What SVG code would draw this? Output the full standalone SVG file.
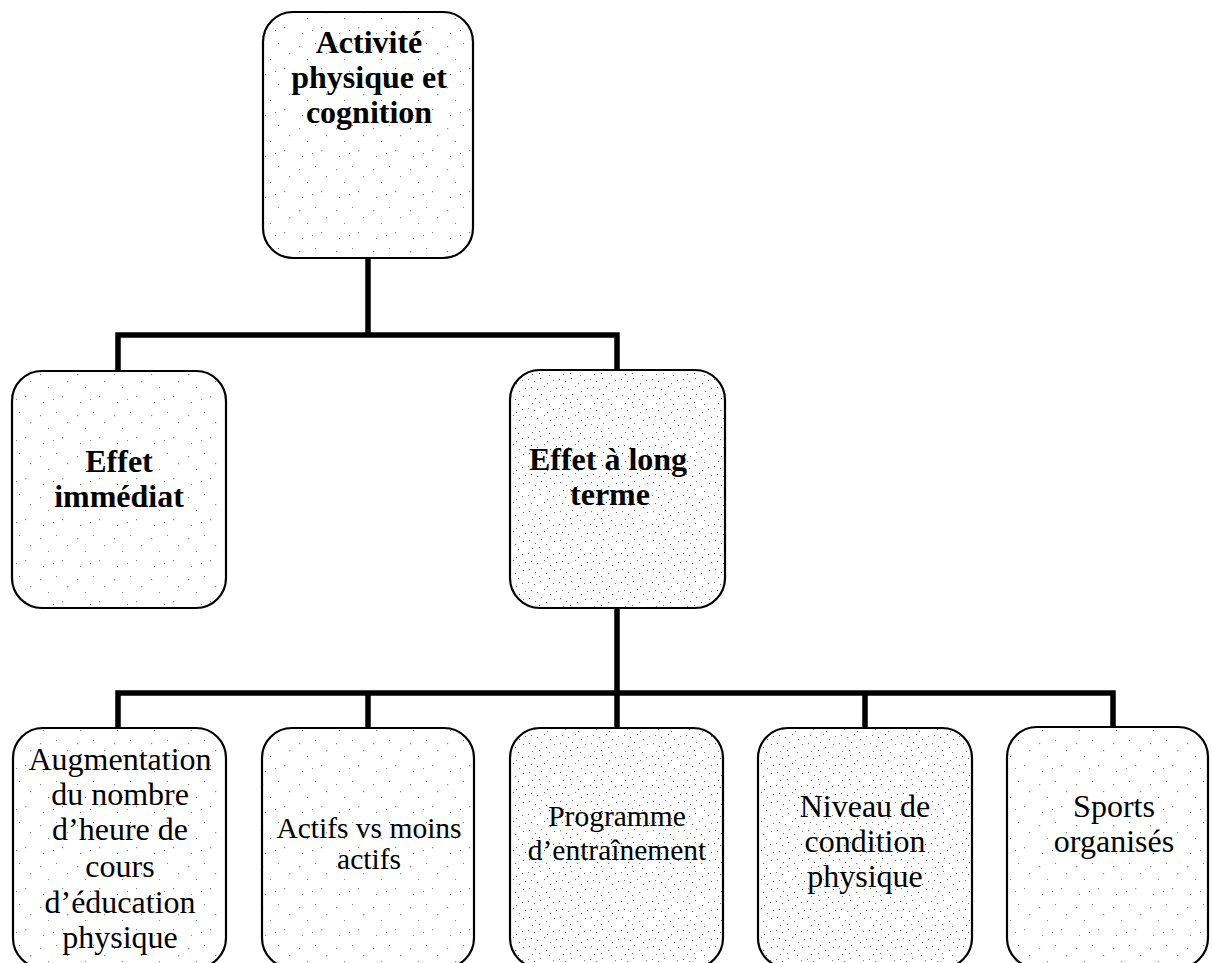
<svg xmlns="http://www.w3.org/2000/svg" width="1212" height="963" viewBox="0 0 1212 963">
<style>
.box{stroke:#000;stroke-width:2.2}
.light{fill:url(#speckL)}
.dense{fill:url(#speckD)}
.b{font-family:"Liberation Serif","Times New Roman",serif;font-weight:bold;font-size:32px;text-anchor:middle;fill:#000}
.r{font-family:"Liberation Serif","Times New Roman",serif;font-size:32px;text-anchor:middle;fill:#000}
.r28{font-family:"Liberation Serif","Times New Roman",serif;font-size:29.5px;text-anchor:middle;fill:#000}
.conn{fill:none;stroke:#000;stroke-width:5.5;stroke-linejoin:miter;stroke-linecap:square}
</style>
<defs>
<pattern id="speckL" width="37" height="41" patternUnits="userSpaceOnUse">
<rect width="37" height="41" fill="#fff"/>
<g fill="#888">
<rect x="3" y="5" width="1.2" height="1.2"/><rect x="19" y="2" width="1" height="1"/><rect x="30" y="12" width="1.2" height="1.2"/><rect x="11" y="18" width="1" height="1"/><rect x="25" y="27" width="1.2" height="1.2"/><rect x="6" y="33" width="1" height="1"/><rect x="16" y="30" width="1" height="1"/>
</g>
</pattern>
<pattern id="speckD" width="31" height="29" patternUnits="userSpaceOnUse">
<rect width="31" height="29" fill="#fff"/>
<g fill="#777">
<rect x="1" y="2" width="1" height="1"/><rect x="7" y="4" width="1.2" height="1"/><rect x="13" y="1" width="1" height="1"/><rect x="20" y="6" width="1" height="1.2"/><rect x="26" y="3" width="1" height="1"/><rect x="4" y="10" width="1" height="1"/><rect x="10" y="12" width="1.2" height="1"/><rect x="17" y="9" width="1" height="1"/><rect x="23" y="14" width="1" height="1"/><rect x="29" y="11" width="1" height="1"/><rect x="2" y="18" width="1" height="1.2"/><rect x="8" y="21" width="1" height="1"/><rect x="14" y="17" width="1" height="1"/><rect x="19" y="22" width="1.2" height="1"/><rect x="27" y="19" width="1" height="1"/><rect x="5" y="26" width="1" height="1"/><rect x="12" y="25" width="1" height="1"/><rect x="22" y="27" width="1" height="1"/>
</g>
</pattern>
</defs>
<g id="connectors">
<path class="conn" d="M368 258 V335 M118 371 V335 H617 V370"/>
<path class="conn" d="M617 608 V693 M118 728 V693 H1113 V728 M368 693 V728 M617 693 V728 M865 693 V728"/>
</g>
<g id="n-root">
<rect class="box light" x="263" y="12" width="210" height="246" rx="30"/>
<text class="b" x="369" y="53">Activité</text>
<text class="b" x="369" y="88">physique et</text>
<text class="b" x="369" y="123">cognition</text>
</g>
<g id="n-immediat">
<rect class="box light" x="12" y="371" width="214" height="237" rx="30"/>
<text class="b" x="119" y="472">Effet</text>
<text class="b" x="119" y="507">immédiat</text>
</g>
<g id="n-long">
<rect class="box dense" x="510" y="370" width="215" height="238" rx="30"/>
<text class="b" x="608" y="470">Effet à long</text>
<text class="b" x="610" y="505">terme</text>
</g>
<g id="n-augmentation">
<rect class="box light" x="13" y="728" width="213" height="240" rx="30"/>
<text class="r" x="120" y="770">Augmentation</text>
<text class="r" x="120" y="805">du nombre</text>
<text class="r" x="120" y="840">d’heure de</text>
<text class="r" x="120" y="877">cours</text>
<text class="r" x="120" y="913">d’éducation</text>
<text class="r" x="120" y="948">physique</text>
</g>
<g id="n-actifs">
<rect class="box light" x="262" y="728" width="212" height="240" rx="30"/>
<text class="r28" x="369" y="838">Actifs vs moins</text>
<text class="r28" x="369" y="869">actifs</text>
</g>
<g id="n-programme">
<rect class="box dense" x="510" y="728" width="213" height="240" rx="30"/>
<text class="r28" x="617" y="826">Programme</text>
<text class="r28" x="617" y="860">d’entraînement</text>
</g>
<g id="n-niveau">
<rect class="box dense" x="758" y="728" width="214" height="240" rx="30"/>
<text class="r" x="865" y="817">Niveau de</text>
<text class="r" x="865" y="852">condition</text>
<text class="r" x="865" y="887">physique</text>
</g>
<g id="n-sports">
<rect class="box light" x="1007" y="727" width="201" height="241" rx="30"/>
<text class="r" x="1114" y="817">Sports</text>
<text class="r" x="1114" y="852">organisés</text>
</g>
</svg>
